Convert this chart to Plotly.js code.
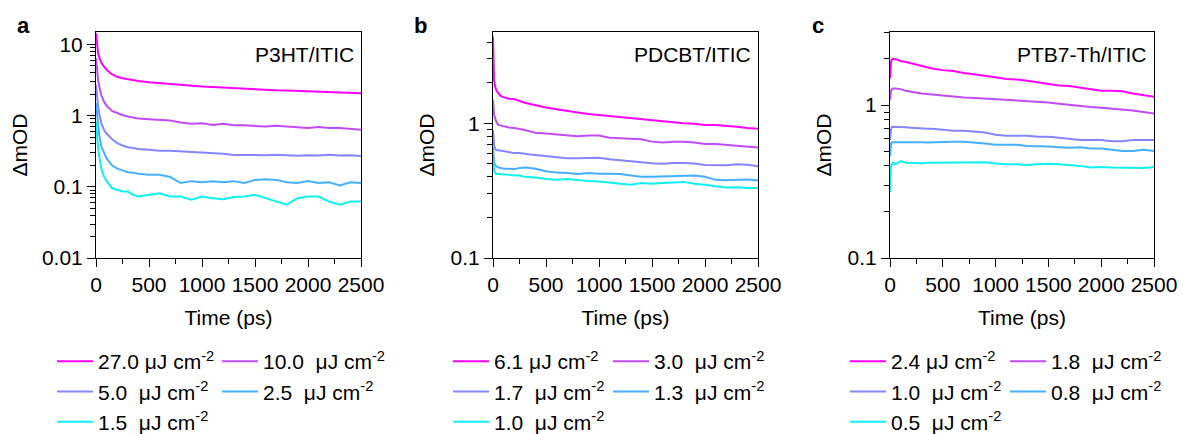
<!DOCTYPE html>
<html>
<head>
<meta charset="utf-8">
<script src="https://cdn.plot.ly/plotly-3.0.1.min.js"></script>
<style>
html,body{margin:0;padding:0;background:#fff;}
#wrap{position:relative;width:1183px;height:434px;overflow:hidden;}
.pn{position:absolute;top:0;height:434px;}
</style>
</head>
<body>
<div id="wrap">
<div id="pa" class="pn" style="left:0;width:394px"></div>
<div id="pb" class="pn" style="left:394px;width:394px"></div>
<div id="pc" class="pn" style="left:788px;width:395px"></div>
</div>
<script>
// shared time axis (ps)
const time = [0,5,10,20,30,50,75,100,150,200,250,300,350,400,500,600,700,800,900,1000,1100,1200,1300,1400,1500,1600,1700,1800,1900,2000,2100,2200,2300,2400,2500];

const colors = ['#ff00ff','#c04cf5','#8585ff','#45b0ff','#10f0f0'];

// Panel a: P3HT/ITIC
const labelsA = ['27.0 μJ cm<sup>-2</sup>','10.0\u00a0 μJ cm<sup>-2</sup>','5.0\u00a0 μJ cm<sup>-2</sup>','2.5\u00a0 μJ cm<sup>-2</sup>','1.5\u00a0 μJ cm<sup>-2</sup>'];
const a27 = [14.3,11.5,9.3,7.5,6.6,5.5,4.9,4.4,3.8,3.5,3.33,3.23,3.13,3.06,2.93,2.84,2.78,2.69,2.61,2.55,2.52,2.47,2.41,2.36,2.34,2.29,2.26,2.24,2.22,2.19,2.15,2.13,2.10,2.08,2.06];
const a10 = [6.4,5.1,4.1,3.16,2.6,1.94,1.57,1.37,1.16,1.08,1.02,0.97,0.93,0.91,0.89,0.87,0.85,0.80,0.77,0.78,0.74,0.77,0.73,0.73,0.72,0.70,0.72,0.70,0.68,0.67,0.69,0.67,0.67,0.65,0.63];
const a5  = [2.7,2.2,1.75,1.34,1.08,0.78,0.63,0.56,0.47,0.41,0.38,0.36,0.35,0.34,0.33,0.32,0.32,0.315,0.31,0.305,0.30,0.29,0.28,0.278,0.28,0.278,0.282,0.278,0.272,0.278,0.276,0.282,0.276,0.278,0.27];
const a25 = [1.49,1.2,0.97,0.70,0.54,0.37,0.30,0.25,0.20,0.18,0.17,0.16,0.158,0.152,0.147,0.147,0.137,0.113,0.12,0.116,0.12,0.116,0.12,0.113,0.125,0.128,0.125,0.116,0.113,0.12,0.113,0.116,0.104,0.116,0.113];
const a15 = [0.82,0.63,0.48,0.35,0.27,0.18,0.14,0.12,0.096,0.091,0.086,0.086,0.077,0.073,0.077,0.081,0.073,0.073,0.066,0.073,0.069,0.067,0.072,0.073,0.077,0.069,0.062,0.056,0.069,0.073,0.073,0.062,0.056,0.062,0.062];

// Panel b: PDCBT/ITIC
const labelsB = ['6.1 μJ cm<sup>-2</sup>','3.0\u00a0 μJ cm<sup>-2</sup>','1.7\u00a0 μJ cm<sup>-2</sup>','1.3\u00a0 μJ cm<sup>-2</sup>','1.0\u00a0 μJ cm<sup>-2</sup>'];
const b61 = [4.4,2.63,2.09,1.87,1.77,1.67,1.59,1.56,1.52,1.51,1.46,1.42,1.39,1.36,1.31,1.27,1.23,1.20,1.17,1.15,1.12,1.11,1.09,1.07,1.05,1.03,1.01,1.0,0.99,0.97,0.97,0.96,0.94,0.92,0.91];
const b30 = [1.49,1.25,1.15,1.09,1.03,0.97,0.96,0.94,0.93,0.92,0.91,0.89,0.87,0.85,0.84,0.83,0.81,0.80,0.81,0.81,0.78,0.77,0.77,0.76,0.73,0.72,0.73,0.73,0.72,0.70,0.70,0.69,0.68,0.67,0.66];
const b17 = [0.89,0.75,0.69,0.65,0.63,0.63,0.625,0.62,0.61,0.60,0.60,0.59,0.585,0.58,0.57,0.56,0.55,0.55,0.553,0.555,0.54,0.53,0.52,0.51,0.505,0.50,0.507,0.507,0.503,0.49,0.49,0.488,0.497,0.492,0.48];
const b13 = [0.67,0.54,0.51,0.49,0.48,0.47,0.465,0.46,0.46,0.455,0.465,0.47,0.465,0.46,0.44,0.43,0.428,0.42,0.428,0.422,0.422,0.42,0.41,0.40,0.40,0.402,0.405,0.41,0.41,0.40,0.38,0.378,0.38,0.382,0.375];
const b10 = [0.54,0.48,0.45,0.43,0.42,0.42,0.42,0.418,0.415,0.41,0.41,0.40,0.40,0.395,0.385,0.38,0.385,0.378,0.372,0.37,0.363,0.36,0.35,0.36,0.355,0.36,0.362,0.367,0.355,0.35,0.34,0.333,0.335,0.33,0.33];

// Panel c: PTB7-Th/ITIC
const labelsC = ['2.4 μJ cm<sup>-2</sup>','1.8\u00a0 μJ cm<sup>-2</sup>','1.0\u00a0 μJ cm<sup>-2</sup>','0.8\u00a0 μJ cm<sup>-2</sup>','0.5\u00a0 μJ cm<sup>-2</sup>'];
const c24 = [1.49,1.78,1.92,1.99,2.0,2.0,1.97,1.94,1.91,1.87,1.83,1.79,1.76,1.73,1.69,1.67,1.62,1.59,1.55,1.52,1.48,1.47,1.44,1.41,1.37,1.34,1.33,1.30,1.27,1.24,1.24,1.23,1.19,1.16,1.13];
const c18 = [1.08,1.19,1.24,1.27,1.28,1.28,1.275,1.27,1.24,1.22,1.205,1.19,1.18,1.17,1.15,1.13,1.12,1.11,1.10,1.09,1.08,1.07,1.06,1.05,1.04,1.02,1.0,0.99,0.97,0.96,0.95,0.94,0.92,0.90,0.88];
const c10 = [0.59,0.67,0.70,0.72,0.72,0.72,0.72,0.72,0.715,0.71,0.705,0.70,0.70,0.70,0.69,0.68,0.68,0.67,0.66,0.64,0.63,0.63,0.63,0.62,0.62,0.61,0.60,0.59,0.59,0.59,0.58,0.58,0.59,0.59,0.59];
const c08 = [0.46,0.52,0.56,0.57,0.57,0.57,0.57,0.575,0.57,0.57,0.57,0.57,0.568,0.57,0.57,0.575,0.575,0.57,0.56,0.55,0.55,0.55,0.54,0.54,0.535,0.53,0.525,0.53,0.52,0.52,0.51,0.50,0.50,0.51,0.50];
const c05 = [0.27,0.36,0.40,0.41,0.42,0.41,0.42,0.43,0.42,0.42,0.417,0.415,0.42,0.42,0.42,0.423,0.42,0.42,0.423,0.415,0.41,0.41,0.405,0.41,0.413,0.41,0.405,0.40,0.39,0.393,0.39,0.39,0.392,0.388,0.393];

const xTicks = [0,500,1000,1500,2000,2500];
const FONT = 'Liberation Sans, Arial, sans-serif';
// legend items in the left column (1st, 3rd, 5th) and right column (2nd, 4th)
const legendOf = ['legend','legend2','legend','legend2','legend'];

function minorLog(lo, hi){
  const v=[];
  for(let e=lo;e<=hi;e++){for(let m=2;m<=9;m++){v.push(m*Math.pow(10,e));}}
  return v;
}

function panel(div, series, labels, yr, yTickVals, yTickText, minorVals, title, letter, ml, mr, yTitleStandoff, lx1, lx2){
  const traces = series.map((s,i)=>({
    x: time, y: s, type:'scatter', mode:'lines', name: labels[i], legend: legendOf[i],
    line:{color: colors[i], width:2}
  }));
  const W = (div==='pc'?395:394);
  const pw = W - ml - mr;
  const legBase = {orientation:'v', xref:'paper', xanchor:'left', yref:'container', y:1-341/434, yanchor:'top',
      font:{family:FONT, size:21, color:'#000'}, itemwidth:36, tracegroupgap:0, bgcolor:'rgba(0,0,0,0)'};
  const layout = {
    width: W, height:434,
    margin:{l:ml, r:mr, t:32, b:176},
    paper_bgcolor:'#fff', plot_bgcolor:'#fff',
    font:{family:FONT, size:21, color:'#000'},
    showlegend:true,
    legend: Object.assign({}, legBase, {x: (lx1-ml)/pw}),
    legend2: Object.assign({}, legBase, {x: (lx2-ml)/pw}),
    xaxis:{range:[0,2500], tickmode:'array', tickvals:xTicks, ticks:'outside', ticklen:8, tickwidth:1,
      tickcolor:'#000', showline:true, linecolor:'#000', linewidth:1, mirror:true, showgrid:false, zeroline:false,
      automargin:false,
      minor:{tickvals:[250,750,1250,1750,2250], ticks:'outside', ticklen:5, tickcolor:'#000', showgrid:false},
      tickfont:{family:FONT, size:21}, title:{text:'Time (ps)', font:{family:FONT, size:21}, standoff:15}},
    yaxis:{type:'log', range:yr, tickmode:'array', tickvals:yTickVals, ticktext:yTickText, ticks:'outside', ticklen:8,
      tickwidth:1, tickcolor:'#000', showline:true, linecolor:'#000', linewidth:1, mirror:true, showgrid:false, zeroline:false,
      automargin:false,
      minor:{tickvals:minorVals, ticks:'outside', ticklen:5, tickcolor:'#000', showgrid:false},
      tickfont:{family:FONT, size:21}, title:{text:'ΔmOD', font:{family:FONT, size:21}, standoff:yTitleStandoff}},
    annotations:[
      {text:title, xref:'paper', yref:'paper', x:1-5/pw, y:1-22/226, xanchor:'right', yanchor:'middle', showarrow:false,
       font:{family:FONT, size:21, color:'#000'}},
      {text:'<b>'+letter+'</b>', xref:'paper', yref:'paper', x:-0.274, y:1+7/226, xanchor:'center', yanchor:'middle', showarrow:false,
       font:{family:FONT, size:22, color:'#000'}}
    ]
  };
  Plotly.newPlot(div, traces, layout, {staticPlot:true, displayModeBar:false});
}

panel('pa', [a27,a10,a5,a25,a15], labelsA, [-2, Math.log10(14.9)], [0.01,0.1,1,10], ['0.01','0.1','1','10'], minorLog(-2,0), 'P3HT/ITIC', 'a', 96, 33, 8, 52, 217);
panel('pb', [b61,b30,b17,b13,b10], labelsB, [-1, Math.log10(4.75)], [0.1,1], ['0.1','1'], minorLog(-1,0).filter(v=>v<4.75), 'PDCBT/ITIC', 'b', 99, 30, 10, 54, 214);
panel('pc', [c24,c18,c10,c08,c05], labelsC, [-1, Math.log10(3)], [0.1,1], ['0.1','1'], minorLog(-1,0).filter(v=>v<=3.001), 'PTB7-Th/ITIC', 'c', 102, 29, 10, 57, 217);
</script>
</body>
</html>
